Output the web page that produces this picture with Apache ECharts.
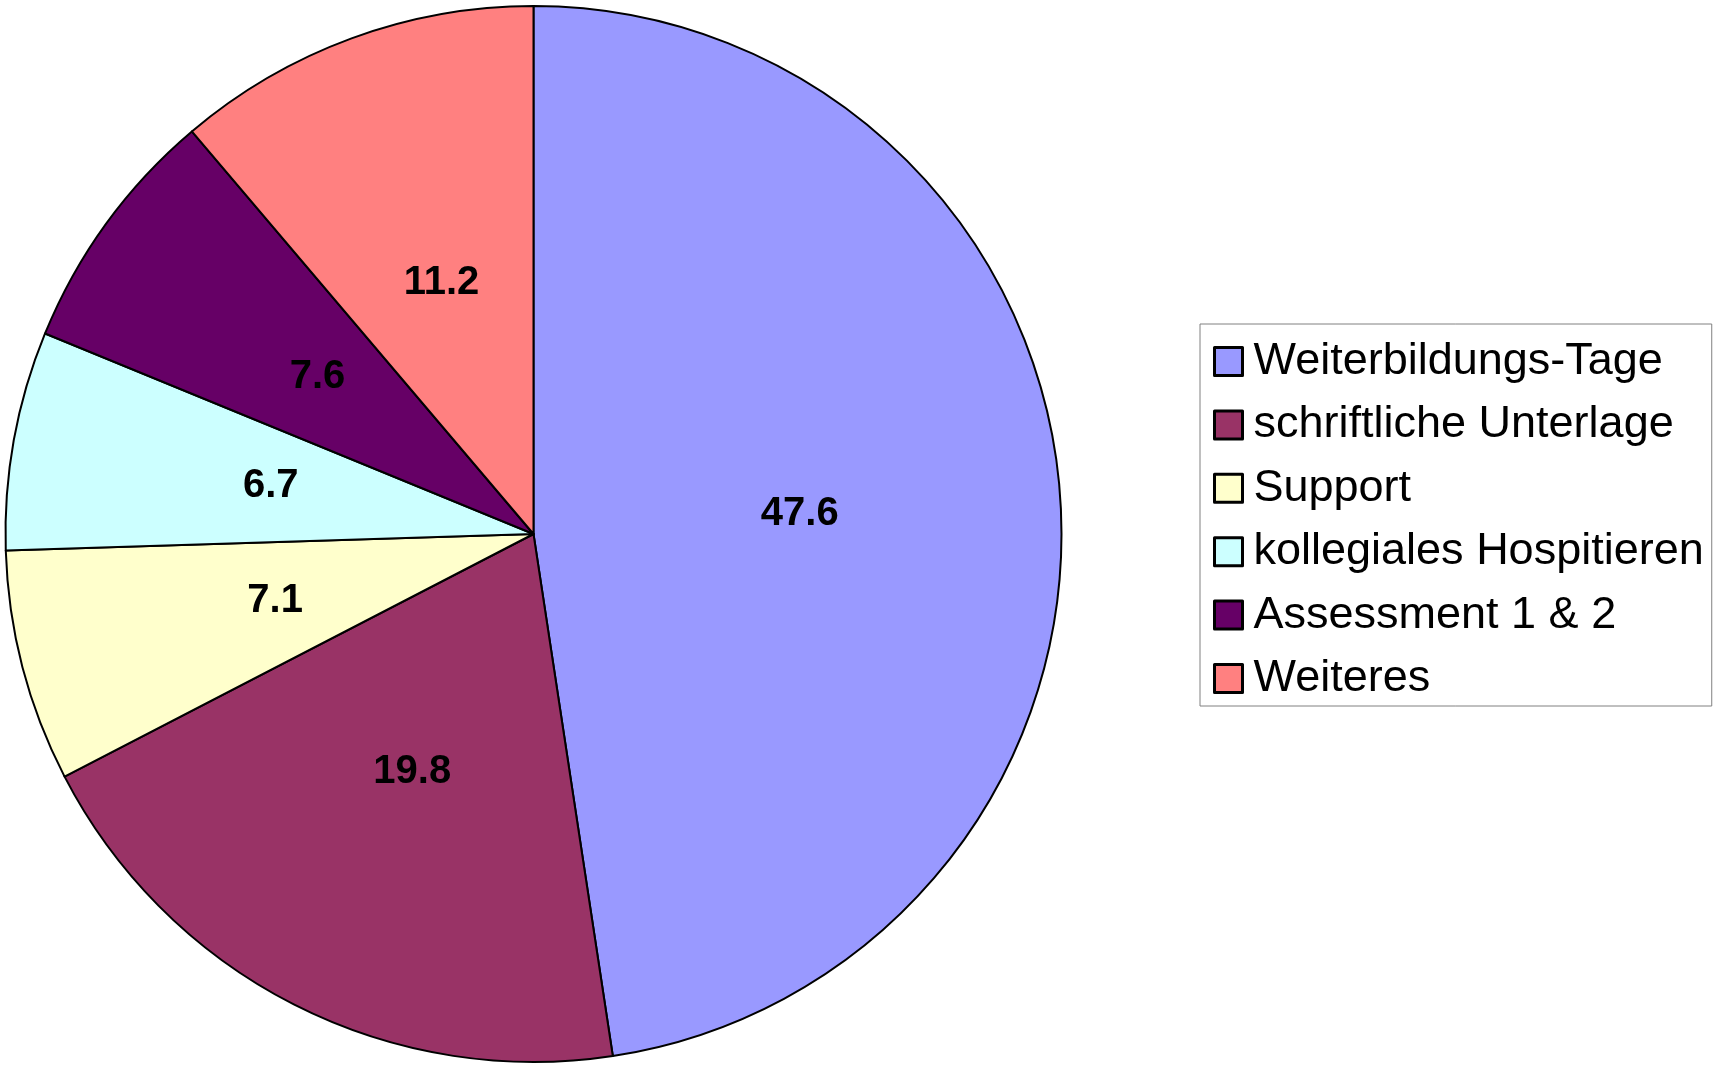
<!DOCTYPE html>
<html>
<head>
<meta charset="utf-8">
<script src="https://cdn.jsdelivr.net/npm/echarts@6/dist/echarts.min.js"></script>
<style>
  html, body { margin: 0; padding: 0; background: #fff; }
  #chart { width: 1713px; height: 1068px; }
</style>
</head>
<body>
<div id="chart"></div>
<script>
// Kategorien und Werte (Prozent)
const categories = [
  "Weiterbildungs-Tage",
  "schriftliche Unterlage",
  "Support",
  "kollegiales Hospitieren",
  "Assessment 1 & 2",
  "Weiteres",
];
const values = [47.6, 19.8, 7.1, 6.7, 7.6, 11.2];
const colors = ["#9999FF", "#993366", "#FFFFCC", "#CCFFFF", "#660066", "#FF8080"];

const chart = echarts.init(document.getElementById("chart"), null, { renderer: "canvas" });

const option = {
  animation: false,
  color: colors,
  legend: {
    orient: "vertical",
    left: 1200,
    top: 324,
    padding: [15, 8, 5, 13],
    borderColor: "#808080",
    borderWidth: 1,
    itemWidth: 28,
    itemHeight: 28,
    itemGap: 18.4,
    icon: "rect",
    itemStyle: { borderColor: "#000", borderWidth: 3 },
    textStyle: {
      fontFamily: "Liberation Sans, Arial, sans-serif",
      fontSize: 45,
      lineHeight: 45,
      color: "#000",
      padding: [0, 0, 0, 6],
    },
    data: categories,
  },
  series: [
    {
      type: "pie",
      center: [533.5, 534],
      radius: [0, 528],
      startAngle: 90,
      clockwise: true,
      avoidLabelOverlap: false,
      itemStyle: { borderColor: "#000", borderWidth: 2 },
      label: {
        show: true,
        position: "inside",
        formatter: (p) => p.value.toFixed(1),
        fontFamily: "Liberation Sans, Arial, sans-serif",
        fontWeight: "bold",
        fontSize: 40,
        color: "#000",
      },
      labelLine: { show: false },
      emphasis: { disabled: true },
      data: categories.map((name, i) => ({ name: name, value: values[i] })),
    },
  ],
};

chart.setOption(option);
</script>
</body>
</html>
